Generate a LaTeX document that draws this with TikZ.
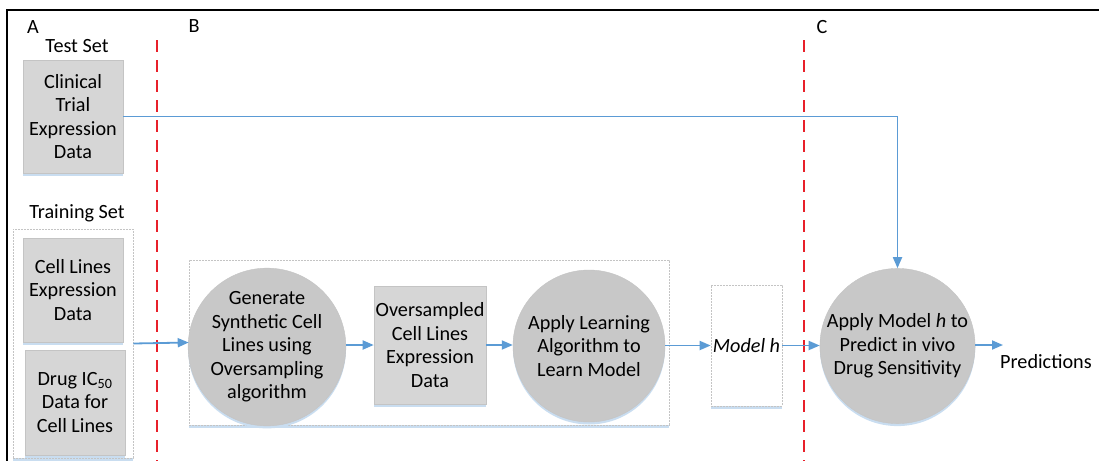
\documentclass[tikz,border=0pt]{standalone}
\usepackage{fontspec}
\setmainfont{Carlito}
\usetikzlibrary{arrows.meta,shadows,calc}
\definecolor{arrblue}{HTML}{5B9BD5}
\definecolor{shblue}{HTML}{C9DDF0}
\definecolor{boxgray}{HTML}{D6D6D6}
\definecolor{circgray}{HTML}{C8C8C8}
\definecolor{bordgray}{HTML}{C4C4C4}
\definecolor{divred}{HTML}{E8202A}
\tikzset{
  txt/.style={font=\fontsize{20.2}{23.5}\selectfont, align=center},
  graybox/.style={txt, draw=bordgray, line width=0.6pt, fill=boxgray, inner sep=0pt,
    drop shadow={shadow xshift=0pt, shadow yshift=-2.5pt, fill=shblue, opacity=1}},
  graycirc/.style={txt, circle, draw=bordgray, line width=0.4pt, fill=circgray, inner sep=0pt,
    drop shadow={shadow xshift=0pt, shadow yshift=-2.5pt, fill=shblue, opacity=1}},
  groupbox/.style={draw=bordgray, dash pattern=on 2pt off 1pt, line width=0.6pt, fill=white, inner sep=0pt,
    drop shadow={shadow xshift=0pt, shadow yshift=-2.5pt, fill=shblue, opacity=1}},
  flow/.style={draw=arrblue, line width=1.8pt, -{Triangle[length=11pt,width=9pt]}},
  divider/.style={draw=divred, line width=1.8pt, dash pattern=on 12pt off 8pt},
  lbl/.style={font=\fontsize{20.2}{23.5}\selectfont, inner sep=0pt}
}
\begin{document}
\begin{tikzpicture}[x=1pt,y=-1pt]
\useasboundingbox (0,0) rectangle (1099,461);
% frame
\draw[line width=1.2pt] (1099,10) -- (7,10) -- (7,461);
% labels
\node[lbl] (la) at (33,27) {A};
\node[lbl] (lb) at (194,26) {B};
\node[lbl] (lc) at (822,27) {C};
\node[lbl] (ltest) at (77,46) {Test Set};
\node[lbl] (ltrain) at (77,213) {Training Set};
% dividers
\coordinate (d1a) at (157,40); \coordinate (d1b) at (157,461);
\coordinate (d2a) at (804,40); \coordinate (d2b) at (804,461);
% groups
\node[groupbox, minimum width=120pt, minimum height=229pt] (train) at (73,343.5) {};
\node[groupbox, minimum width=480pt, minimum height=165pt] (grpB) at (429,342.5) {};
% boxes
\node[graybox, minimum width=100pt, minimum height=113pt] (clin) at (73,116.5) {Clinical\\Trial\\Expression\\Data};
\node[graybox, minimum width=100pt, minimum height=104pt] (cell) at (73,290) {Cell Lines\\Expression\\Data};
\node[graybox, minimum width=100pt, minimum height=105pt] (drug) at (75,402.5) {Drug IC\textsubscript{50}\\Data for\\Cell Lines};
\node[graycirc, minimum size=150pt] (c1) at (267,347) {Generate\\Synthetic Cell\\Lines using\\Oversampling\\algorithm};
\node[graybox, minimum width=112pt, minimum height=118pt] (overs) at (430,345) {Oversampled\\Cell Lines\\Expression\\Data};
\node[graycirc, minimum size=152pt] (c2) at (589,346) {Apply Learning\\Algorithm to\\Learn Model};
\node[groupbox, minimum width=71pt, minimum height=121pt, txt] (model) at (746.5,345.5) {\itshape Model h};
\node[graycirc, minimum size=151pt] (c3) at (897.5,346) {Apply Model \textit{h} to\\Predict in vivo\\Drug Sensitivity};
\coordinate (pend) at (1003,345);
\node[lbl, anchor=west] (pred) at (1000,362) {Predictions};
% dividers drawn over boxes
\draw[divider] (d1a) -- (d1b);
\draw[divider] (d2a) -- (d2b);
% flows
\draw[flow] (clin.east) -| (c3.north);
\draw[flow] (train.east) -- (grpB.west);
\draw[flow] (c1.east |- overs.west) -- (overs.west);
\draw[flow] (overs.east) -- (overs.east -| c2.west);
\draw[flow] (c2.east |- model.west) -- (model.west);
\draw[flow] (model.east) -- (model.east -| c3.west);
\draw[flow] (c3.east |- pend) -- (pend);
\end{tikzpicture}
\end{document}
